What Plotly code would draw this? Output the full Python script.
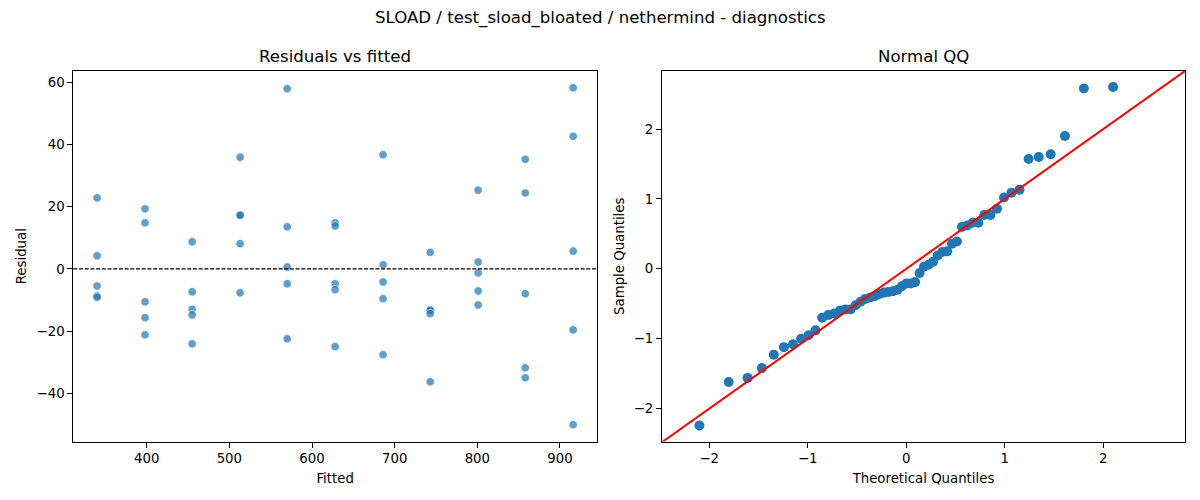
import plotly.graph_objects as go

# residuals vs fitted: fitted levels and the residuals seen at each level
fitted_levels = [340, 398, 455, 513, 570, 628, 686, 743, 801, 858, 916]
resid_groups = [
    [22.8, 4.2, -5.5, -8.7, -9.1],
    [19.3, 14.8, -10.6, -15.7, -21.2],
    [8.7, -7.4, -13.0, -14.8, -24.1],
    [35.9, 17.3, 17.2, 8.1, -7.7],
    [57.9, 13.5, 0.6, -4.8, -22.5],
    [14.8, 13.8, -4.8, -6.7, -25.0],
    [36.7, 1.3, -4.2, -9.6, -27.6],
    [5.3, -13.1, -13.4, -14.4, -36.3],
    [25.3, 2.2, -1.3, -7.1, -11.6],
    [35.2, 24.4, -8.0, -31.8, -35.0],
    [58.2, 42.6, 5.7, -19.6, -50.1],
]

# normal QQ (standardised residuals)
qq_theoretical = [
    -2.100, -1.803, -1.611, -1.466, -1.345, -1.242, -1.150, -1.068, -0.992,
    -0.921, -0.854, -0.792, -0.732, -0.674, -0.619, -0.566, -0.514, -0.464,
    -0.415, -0.366, -0.319, -0.272, -0.226, -0.180, -0.135, -0.090, -0.045,
    0.000, 0.045, 0.090, 0.135, 0.180, 0.226, 0.272, 0.319, 0.366, 0.415,
    0.464, 0.514, 0.566, 0.619, 0.674, 0.732, 0.792, 0.854, 0.921, 0.992,
    1.068, 1.150, 1.242, 1.345, 1.466, 1.611, 1.803, 2.100,
]
qq_sample = [
    -2.24, -1.62, -1.56, -1.42, -1.23, -1.12, -1.08, -1.00, -0.95, -0.88,
    -0.70, -0.66, -0.64, -0.60, -0.58, -0.58, -0.52, -0.47, -0.43, -0.41,
    -0.39, -0.36, -0.34, -0.33, -0.32, -0.30, -0.25, -0.21, -0.21, -0.19,
    -0.06, 0.03, 0.06, 0.10, 0.19, 0.24, 0.25, 0.36, 0.39, 0.60, 0.62,
    0.66, 0.66, 0.77, 0.77, 0.86, 1.02, 1.09, 1.13, 1.57, 1.60, 1.64,
    1.90, 2.58, 2.60,
]

fitted = []
resid = []
for lvl, grp in zip(fitted_levels, resid_groups):
    fitted += [lvl] * len(grp)
    resid += grp

FONT = "DejaVu Sans"
BLUE = "#1f77b4"
qq_lims = [-2.48, 2.83]

# page has an 8px body margin, so lay out in page pixels minus 8
W, H, OFF = 1200, 500, 8
def px_x(p):
    return (p - OFF) / W
def px_y(p):
    return 1 - (p - OFF) / H

left_dom = [px_x(73.3), px_x(597)]
right_dom = [px_x(662), px_x(1185)]
y_dom = [px_y(441.5), px_y(71)]

fig = go.Figure()

fig.add_trace(go.Scatter(
    x=fitted, y=resid, mode="markers",
    marker=dict(color=BLUE, size=8.5, opacity=0.7,
                line=dict(color="white", width=0.8)),
    xaxis="x", yaxis="y", showlegend=False,
))

fig.add_trace(go.Scatter(
    x=qq_theoretical, y=qq_sample, mode="markers",
    marker=dict(color=BLUE, size=10),
    xaxis="x2", yaxis="y2", showlegend=False,
))

# 45 degree reference line
fig.add_trace(go.Scatter(
    x=qq_lims, y=qq_lims, mode="lines",
    line=dict(color="red", width=2),
    xaxis="x2", yaxis="y2", showlegend=False,
))

fig.add_shape(type="line", xref="x domain", yref="y", x0=0, x1=1, y0=0, y1=0,
              line=dict(color="black", width=1.2, dash="4px,1.7px"))

axis_common = dict(
    showgrid=False, zeroline=False, showline=True, mirror=True,
    linecolor="black", linewidth=1, ticks="outside", ticklen=5,
    tickcolor="black", tickfont=dict(family=FONT, size=13.3, color="black"),
    title_font=dict(family=FONT, size=13.3, color="black"),
)

title_font = dict(family=FONT, size=16.6, color="black")

fig.update_layout(
    width=W, height=H,
    margin=dict(l=0, r=0, t=0, b=0, autoexpand=False),
    paper_bgcolor="white", plot_bgcolor="white",
    font=dict(family=FONT, color="black"),
    xaxis=dict(domain=left_dom, range=[311.2, 944.8],
               tickvals=[400, 500, 600, 700, 800, 900],
               title=dict(text="Fitted", standoff=8), anchor="y",
               **axis_common),
    yaxis=dict(domain=y_dom, range=[-55.5, 63.6],
               tickvals=[-40, -20, 0, 20, 40, 60],
               title=dict(text="Residual", standoff=6), anchor="x",
               **axis_common),
    xaxis2=dict(domain=right_dom, range=qq_lims,
                tickvals=[-2, -1, 0, 1, 2],
                title=dict(text="Theoretical Quantiles", standoff=8),
                anchor="y2", **axis_common),
    yaxis2=dict(domain=y_dom, range=[-2.47, 2.83],
                tickvals=[-2, -1, 0, 1, 2],
                title=dict(text="Sample Quantiles", standoff=6),
                anchor="x2", **axis_common),
    annotations=[
        dict(text="SLOAD / test_sload_bloated / nethermind - diagnostics",
             x=px_x(600), y=px_y(18.3), xref="paper", yref="paper",
             xanchor="center", yanchor="middle", showarrow=False,
             font=title_font),
        dict(text="Residuals vs fitted", x=sum(left_dom) / 2, y=px_y(56.7),
             xref="paper", yref="paper", xanchor="center", yanchor="middle",
             showarrow=False, font=title_font),
        dict(text="Normal QQ", x=sum(right_dom) / 2, y=px_y(56.7),
             xref="paper", yref="paper", xanchor="center", yanchor="middle",
             showarrow=False, font=title_font),
    ],
)

fig.write_html("out.html")
